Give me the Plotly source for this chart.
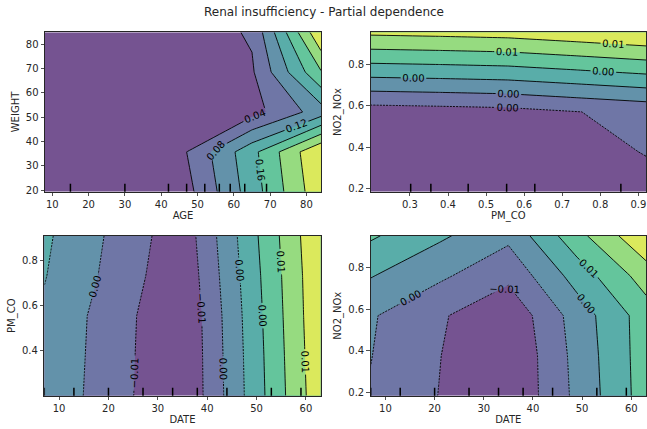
import plotly.graph_objects as go

# ---------------- data ----------------
# Panel 1: AGE x WEIGHT
age_grid = [8, 27, 46, 65, 84]
weight_grid = [19.3, 35.7, 52.15, 68.6, 85]
pd_age_weight = [
    [0.000, 0.002, 0.021, 0.140, 0.270],
    [0.001, 0.003, 0.034, 0.148, 0.280],
    [0.001, 0.003, 0.008, 0.025, 0.100],
    [0.001, 0.004, 0.010, 0.035, 0.197],
    [0.002, 0.005, 0.014, 0.045, 0.277],
]
age_deciles = [15, 30, 42, 47, 52, 56, 59, 63, 69]

# Panel 2: PM_CO x NO2_NOx
pmco_grid = [0.197, 0.378, 0.558, 0.739, 0.92]
no2_grid = [0.184, 0.377, 0.570, 0.762, 0.955]
pd_pmco_no2 = [
    [-0.0023, -0.0023, -0.0022, -0.0018, -0.0012],
    [-0.0021, -0.0020, -0.0019, -0.0012, -0.00075],
    [-0.00154, -0.00141, -0.00126, -0.00083, -0.0004],
    [0.00275, 0.00288, 0.00304, 0.00346, 0.0039],
    [0.0070, 0.00713, 0.00729, 0.00771, 0.00815],
]
pmco_deciles = [0.302, 0.355, 0.453, 0.554, 0.628, 0.854]

# Panel 3: DATE x PM_CO
date_grid = [7, 21, 35, 49, 63]
pmco_grid_b = [0.201, 0.379, 0.556, 0.734, 0.912]
pd_date_pmco = [
    [-0.00124, -0.00525, -0.00950, 0.00056, 0.01060],
    [-0.00110, -0.00515, -0.00945, 0.00070, 0.01080],
    [-0.00096, -0.00505, -0.00936, 0.00090, 0.01100],
    [-0.00035, -0.00440, -0.00888, 0.00120, 0.01110],
    [0.00003, -0.00405, -0.00843, 0.00158, 0.01136],
]
date_deciles = [7, 13, 20, 27, 33, 38, 44, 53, 59]

# Panel 4: DATE x NO2_NOx
pd_date_no2 = [
    [-0.0018, -0.0056, -0.0094, -0.0005, 0.0084],
    [-0.0014, -0.0054, -0.0094, -0.0002, 0.0085],
    [-0.00108, -0.00501, -0.0086, 0.0003, 0.0085],
    [0.00272, -0.00079, -0.00454, 0.0042, 0.0124],
    [0.00706, 0.00316, -0.00053, 0.0092, 0.0180],
]

# contour level ranges (min, max) -> 8 evenly spaced levels
level_range_1 = (0.0, 0.28)
level_range_2 = (-0.0023, 0.0082)
level_range_3 = (-0.0095, 0.0115)
level_range_4 = (-0.0095, 0.0185)

# viridis sampled at band centres, blended with white at alpha 0.75
band_colors = [
    "rgb(117,83,145)", "rgb(111,118,166)", "rgb(99,146,170)", "rgb(89,173,169)",
    "rgb(100,197,156)", "rgb(150,219,128)", "rgb(219,233,92)",
]

W, H = 647, 429
FONT = "DejaVu Sans, Arial, sans-serif"

fig = go.Figure()

# panel pixel boxes (left, top, right, bottom)
boxes = {
    1: (45, 32.3, 321, 191.7),
    2: (370.7, 32.3, 646, 191.7),
    3: (44.3, 235.7, 320.7, 395.7),
    4: (370.7, 235.7, 646, 395.7),
}


def ax_names(i):
    return ("x" if i == 1 else f"x{i}"), ("y" if i == 1 else f"y{i}")


def add_panel(i, xg, yg, z, lvl_range, deciles):
    xa, ya = ax_names(i)
    lo, hi = lvl_range
    d = (hi - lo) / 7.0
    levels = [lo + k * d for k in range(1, 7)]
    eps = d * 1e-3
    fig.add_trace(go.Contour(
        x=xg, y=yg, z=z, xaxis=xa, yaxis=ya,
        contours=dict(start=levels[0], end=levels[-1] + eps, size=d,
                      coloring="fill", showlines=False),
        colorscale=[[k / 6.0, band_colors[k]] for k in range(7)],
        line=dict(width=0, smoothing=0), showscale=False, hoverinfo="skip",
    ))
    neg = [l for l in levels if l < 0]
    pos = [l for l in levels if l >= 0]
    for grp, dash in ((neg, "2px,1.2px"), (pos, "solid")):
        if not grp:
            continue
        fig.add_trace(go.Contour(
            x=xg, y=yg, z=z, xaxis=xa, yaxis=ya,
            contours=dict(start=grp[0], end=grp[-1] + eps, size=d,
                          coloring="none", showlabels=True,
                          labelfont=dict(size=10, color="black", family=FONT),
                          labelformat=".2f"),
            line=dict(color="black", width=0.9, dash=dash, smoothing=0),
            showscale=False, hoverinfo="skip",
        ))
    for v in deciles:
        fig.add_shape(type="line", xref=xa, yref=f"{ya} domain",
                      x0=v, x1=v, y0=0, y1=0.05,
                      line=dict(color="black", width=1.5))


add_panel(1, age_grid, weight_grid, pd_age_weight, level_range_1, age_deciles)
add_panel(2, pmco_grid, no2_grid, pd_pmco_no2, level_range_2, pmco_deciles)
add_panel(3, date_grid, pmco_grid_b, pd_date_pmco, level_range_3, date_deciles)
add_panel(4, date_grid, no2_grid, pd_date_no2, level_range_4, date_deciles)

axis_common = dict(
    showline=True, mirror=True, linecolor="#262626", linewidth=1,
    ticks="outside", ticklen=3.5, tickwidth=0.8, tickcolor="#262626",
    showgrid=False, zeroline=False, automargin=False,
    ticklabeloverflow="allow",
    tickfont=dict(size=10, family=FONT, color="#262626"),
    title_font=dict(size=10, family=FONT, color="#262626"),
)

specs = {
    1: dict(x=("AGE", [8, 84], [10, 20, 30, 40, 50, 60, 70, 80], None),
            y=("WEIGHT", [19.3, 85], [20, 30, 40, 50, 60, 70, 80], None)),
    2: dict(x=("PM_CO", [0.197, 0.92], [0.3, 0.4, 0.5, 0.6, 0.7, 0.8, 0.9], ".1f"),
            y=("NO2_NOx", [0.184, 0.955], [0.2, 0.4, 0.6, 0.8], ".1f")),
    3: dict(x=("DATE", [7, 63], [10, 20, 30, 40, 50, 60], None),
            y=("PM_CO", [0.201, 0.912], [0.4, 0.6, 0.8], ".1f")),
    4: dict(x=("DATE", [7, 63], [10, 20, 30, 40, 50, 60], None),
            y=("NO2_NOx", [0.184, 0.955], [0.2, 0.4, 0.6, 0.8], ".1f")),
}

layout = dict(
    template="none",
    width=W, height=H, margin=dict(l=0, r=0, t=0, b=0, pad=0),
    paper_bgcolor="white", plot_bgcolor="white", showlegend=False,
    hovermode=False,
    font=dict(family=FONT, size=10, color="#262626"),
)
for i, (l, t, r, b) in boxes.items():
    xa, ya = ax_names(i)
    xk = "xaxis" if i == 1 else f"xaxis{i}"
    yk = "yaxis" if i == 1 else f"yaxis{i}"
    xt, xr, xtv, xfmt = specs[i]["x"]
    yt, yr, ytv, yfmt = specs[i]["y"]
    xd = dict(axis_common, domain=[l / W, r / W], range=xr, tickvals=xtv,
              anchor=ya, title=dict(text=xt, standoff=2))
    yd = dict(axis_common, domain=[1 - b / H, 1 - t / H], range=yr, tickvals=ytv,
              anchor=xa, title=dict(text=yt, standoff=4))
    if xfmt:
        xd["tickformat"] = xfmt
    if yfmt:
        yd["tickformat"] = yfmt
    layout[xk] = xd
    layout[yk] = yd

fig.update_layout(**layout)
fig.add_annotation(text="Renal insufficiency - Partial dependence", xref="paper", yref="paper",
                   x=0.5, y=1 - 11.5 / H, xanchor="center", yanchor="middle",
                   showarrow=False, font=dict(size=12, family=FONT, color="#262626"))

fig.write_html("out.html", config={"displayModeBar": False, "staticPlot": True},
               post_script="document.body.style.margin='0px';document.body.style.overflow='hidden';")
